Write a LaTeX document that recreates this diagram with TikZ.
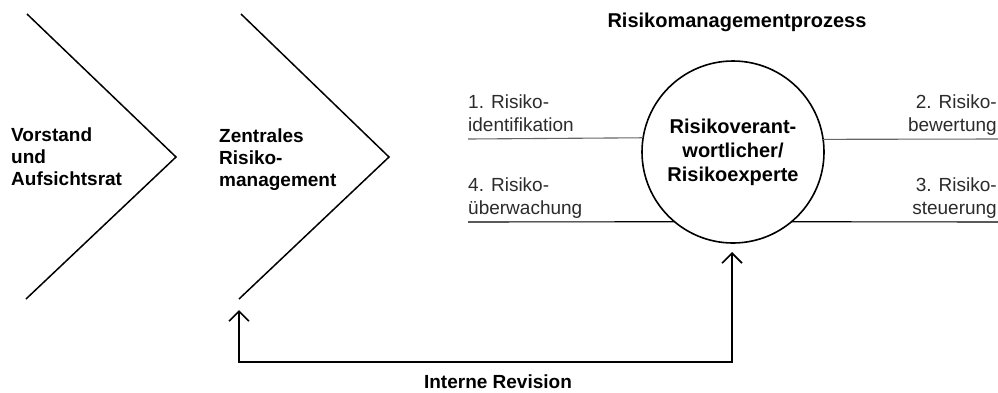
\documentclass[tikz,border=0pt]{standalone}
\usepackage{fontspec}
\setmainfont{Liberation Sans}
\usetikzlibrary{arrows.meta}

\begin{document}
\begin{tikzpicture}[x=1pt, y=-1pt,
    boldText/.style={font=\fontsize{19}{22}\selectfont\bfseries, inner sep=0pt, align=left},
    stepText/.style={font=\fontsize{19}{23}\selectfont, text=labelColour, inner sep=0pt},
    chevron/.style={line width=1.5pt, line join=miter},
    stepLine/.style={line width=1.1pt},
    revArrow/.style={line width=1.6pt, {Straight Barb[length=10pt,width=20pt,line width=1.6pt]}-{Straight Barb[length=10pt,width=20pt,line width=1.6pt]}}]
    \def\lineLeft{468}
    \def\lineRight{998}

    \definecolor{labelColour}{HTML}{2B2B2B}
    \definecolor{greyLine}{HTML}{666666}

    \useasboundingbox (0,0) rectangle (998,392);

    % Chevrons
    \coordinate (V1) at (27,14);
    \coordinate (V2) at (176,157);
    \coordinate (V3) at (26,299);
    \draw[chevron] (V1) -- (V2) -- (V3);
    \coordinate (Z1) at (241,14);
    \coordinate (Z2) at (389,157);
    \coordinate (Z3) at (239,299);
    \draw[chevron] (Z1) -- (Z2) -- (Z3);

    \node[boldText, anchor=north west] (vorstand) at (11,128) {Vorstand\\und\\Aufsichtsrat};
    \node[boldText, anchor=north west] (zentral) at (219,129) {Zentrales\\Risiko-\\management};

    % Process
    \node[boldText, font=\fontsize{20}{24}\selectfont\bfseries] (title) at (737,22) {Risikomanagementprozess};
    \node[circle, draw, line width=1.6pt, minimum size=182pt, outer sep=0pt,
          font=\fontsize{20}{24}\selectfont\bfseries, align=center] (expert) at (733,152)
          {Risikoverant-\\wortlicher/\\Risikoexperte};

    \node[stepText, anchor=north west, align=left] (step1) at (\lineLeft,95) {1. Risiko-\\identifikation};
    \node[stepText, anchor=north east, align=right] (step2) at (\lineRight-1,95) {2. Risiko-\\bewertung};
    \node[stepText, anchor=north east, align=right] (step3) at (\lineRight-1,178) {3. Risiko-\\steuerung};
    \node[stepText, anchor=north west, align=left] (step4) at (\lineLeft,178) {4. Risiko-\\überwachung};

    \coordinate (L1) at (\lineLeft,139);
    \coordinate (R1) at (\lineRight,139);
    \coordinate (L2) at (\lineLeft,222);
    \coordinate (R2) at (\lineRight,222);
    \draw[stepLine, greyLine] (L1) -- (expert.171.8);
    \draw[stepLine, greyLine] (expert.8.2) -- (R1);
    \draw[stepLine] (L2) -- (expert.230.3);
    \draw[stepLine] (expert.-50.3) -- (R2);

    % Interne Revision
    \coordinate (revR) at (732,362);
    \coordinate (revL) at (239,362);
    \draw[revArrow] ([yshift=-9pt]expert.south -| revR) -- (revR) -- (revL) -- ([yshift=-11pt]Z3);
    \node[boldText] (revision) at (498,382) {Interne Revision};
\end{tikzpicture}
\end{document}
